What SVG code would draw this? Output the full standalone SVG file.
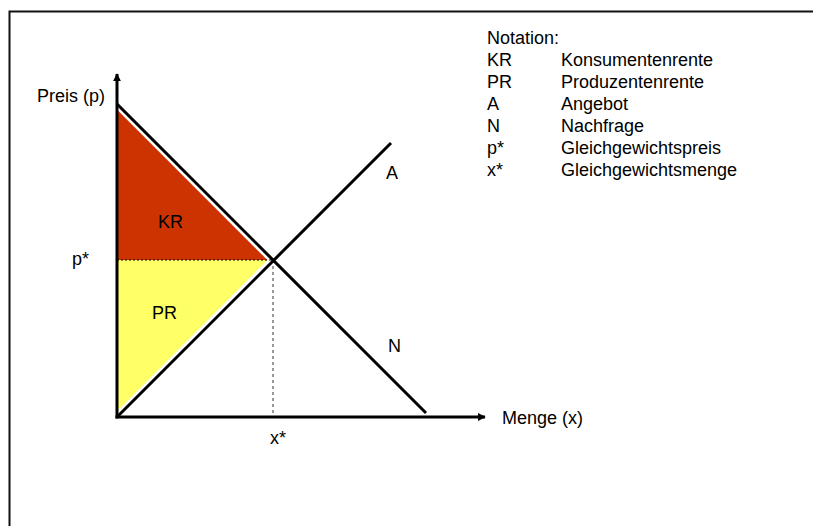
<svg xmlns="http://www.w3.org/2000/svg" width="813" height="526" viewBox="0 0 813 526">
  <defs>
    <style>
      text { font-family: "Liberation Sans", Arial, sans-serif; font-size: 18px; fill: #000; }
      .halo { stroke: #fff; stroke-width: 8; fill: none; }
      .curve { stroke: #000; stroke-width: 3; fill: none; }
      .axis { stroke: #000; stroke-width: 3; fill: none; }
      .dash { stroke: #000; stroke-width: 1; stroke-dasharray: 2 2; fill: none; }
      .dash2 { stroke: #333; stroke-width: 1; stroke-dasharray: 3 3; fill: none; }
    </style>
    <marker id="arrow" viewBox="0 0 10 10" refX="9" refY="5" markerWidth="3.2" markerHeight="2.6" orient="auto" markerUnits="strokeWidth">
      <path d="M0,0 L10,5 L0,10 z" fill="#000"/>
    </marker>
  </defs>
  <rect id="frame" x="9.5" y="11.5" width="900" height="600" fill="#fff" stroke="#111" stroke-width="2"/>

  <g id="kr-area">
    <polygon points="117,104 273,260 117,260" fill="#CC3300"/>
  </g>
  <g id="pr-area">
    <polygon points="117,260 273,260 117,417" fill="#FFFF66"/>
  </g>

  <g id="connectors">
    <line class="halo" x1="117" y1="104" x2="273" y2="260"/>
    <line class="halo" x1="117" y1="417" x2="273" y2="260"/>
    <line class="dash" x1="117" y1="260" x2="273" y2="260"/>
    <line class="dash2" x1="273" y1="260" x2="273" y2="417"/>
    <line id="demand" class="curve" x1="117" y1="104" x2="426" y2="413"/>
    <line id="supply" class="curve" x1="117" y1="417" x2="391" y2="143"/>
    <line id="y-axis" class="axis" x1="117" y1="418.5" x2="117" y2="74" marker-end="url(#arrow)"/>
    <line id="x-axis" class="axis" x1="115.5" y1="417" x2="485" y2="417" marker-end="url(#arrow)"/>
  </g>

  <g id="labels">
    <text x="37" y="102">Preis (p)</text>
    <text x="72" y="265">p*</text>
    <text x="158" y="228">KR</text>
    <text x="152" y="319">PR</text>
    <text x="386" y="179">A</text>
    <text x="388" y="352">N</text>
    <text x="502" y="424">Menge (x)</text>
    <text x="270" y="444">x*</text>
  </g>

  <g id="legend">
    <text x="487" y="43.5">Notation:</text>
    <text x="487" y="65.5">KR</text><text x="561" y="65.5">Konsumentenrente</text>
    <text x="487" y="87.5">PR</text><text x="561" y="87.5">Produzentenrente</text>
    <text x="487" y="109.5">A</text><text x="561" y="109.5">Angebot</text>
    <text x="487" y="131.5">N</text><text x="561" y="131.5">Nachfrage</text>
    <text x="487" y="153.5">p*</text><text x="561" y="153.5">Gleichgewichtspreis</text>
    <text x="487" y="175.5">x*</text><text x="561" y="175.5">Gleichgewichtsmenge</text>
  </g>
</svg>
